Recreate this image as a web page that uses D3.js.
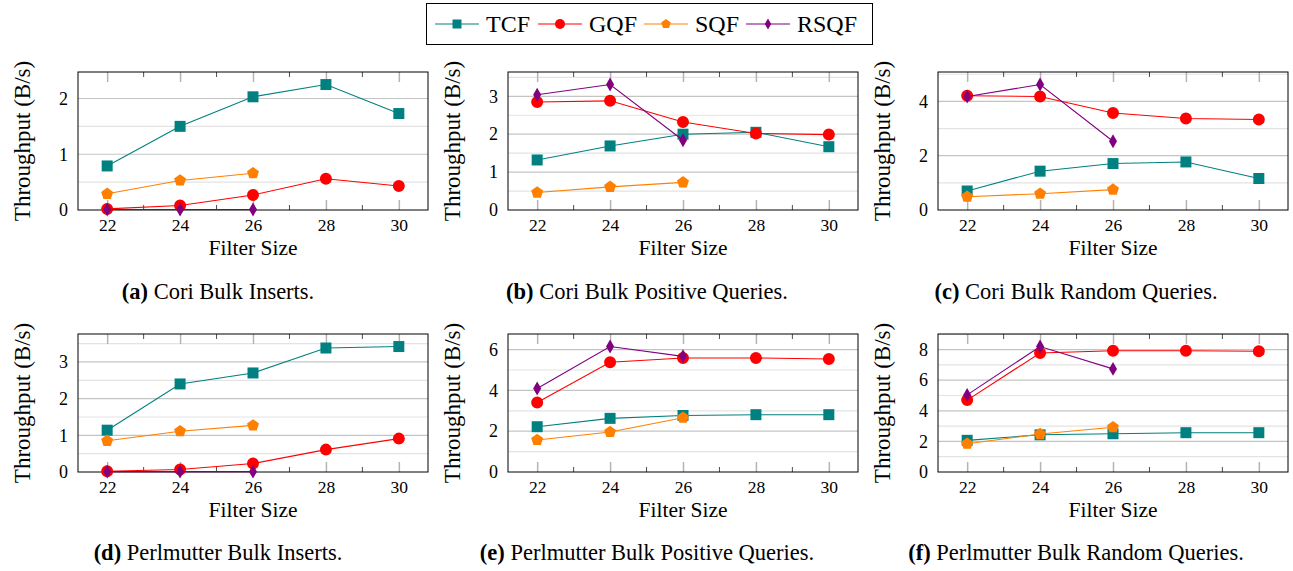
<!DOCTYPE html>
<html>
<head>
<meta charset="utf-8">
<script src="https://cdn.jsdelivr.net/npm/d3@7"></script>
<style>
  body { margin: 0; background: #fff; }
  svg text { font-family: "Liberation Serif", "Times New Roman", serif; }
</style>
</head>
<body>
<svg width="1293" height="571"></svg>
<script>
// filter sizes (x axis) and series names
var filterSizes = [22, 24, 26, 28, 30];
var minorSizes = [23, 25, 27, 29];
var seriesNames = ["TCF", "GQF", "SQF", "RSQF"];

// throughput values per panel, in the order TCF, GQF, SQF, RSQF
var coriInserts = [
  [0.79, 1.50, 2.03, 2.25, 1.73],
  [0.02, 0.08, 0.27, 0.56, 0.43],
  [0.29, 0.53, 0.66],
  [0.01, 0.01, 0.01]
];
var coriPositive = [
  [1.32, 1.69, 2.00, 2.05, 1.67],
  [2.85, 2.88, 2.32, 2.02, 1.99],
  [0.46, 0.61, 0.73],
  [3.04, 3.31, 1.84]
];
var coriRandom = [
  [0.70, 1.43, 1.71, 1.77, 1.16],
  [4.21, 4.18, 3.57, 3.37, 3.33],
  [0.49, 0.60, 0.75],
  [4.18, 4.62, 2.53]
];
var perlInserts = [
  [1.14, 2.40, 2.70, 3.38, 3.42],
  [0.02, 0.07, 0.23, 0.61, 0.91],
  [0.85, 1.11, 1.27],
  [0.01, 0.01, 0.01]
];
var perlPositive = [
  [2.22, 2.63, 2.77, 2.81, 2.81],
  [3.41, 5.38, 5.59, 5.59, 5.54],
  [1.57, 1.96, 2.66],
  [4.09, 6.15, 5.67]
];
var perlRandom = [
  [2.07, 2.43, 2.50, 2.57, 2.57],
  [4.70, 7.78, 7.93, 7.93, 7.89],
  [1.85, 2.48, 2.93],
  [5.04, 8.20, 6.74]
];

var yTickSteps = [1, 1, 2, 1, 2, 2];
var captionTags = ["(a)", "(b)", "(c)", "(d)", "(e)", "(f)"];
var captionTexts = [
  " Cori Bulk Inserts.",
  " Cori Bulk Positive Queries.",
  " Cori Bulk Random Queries.",
  " Perlmutter Bulk Inserts.",
  " Perlmutter Bulk Positive Queries.",
  " Perlmutter Bulk Random Queries."
];

var panels = [coriInserts, coriPositive, coriRandom, perlInserts, perlPositive, perlRandom];

// styling
var serif = "Liberation Serif";
var colors = {TCF: "#008080", GQF: "#ff0000", SQF: "#ff8000", RSQF: "#800080"};

var pentagon = {
  draw: function(context, size) {
    var r = Math.sqrt(size / 2.3776);
    for (var k = 0; k < 5; k++) {
      var a = -Math.PI / 2 + k * 2 * Math.PI / 5;
      if (k == 0) context.moveTo(r * Math.cos(a), r * Math.sin(a));
      else context.lineTo(r * Math.cos(a), r * Math.sin(a));
    }
    context.closePath();
  }
};
var symbolTypes = {TCF: d3.symbolSquare, GQF: d3.symbolCircle, SQF: pentagon, RSQF: d3.symbolDiamond};
var symbolSizes = {TCF: 121, GQF: 113, SQF: 94, RSQF: 56};
var legendSizes = {TCF: 81, GQF: 78, SQF: 60, RSQF: 36};

var svg = d3.select("svg");
var W = 350, H = 138;
var colX = [78, 508, 938], rowY = [72, 334];
var captionCX = [218, 647, 1076];

panels.forEach(function(panel, i) {
  var col = i % 3, row = Math.floor(i / 3);
  var g = svg.append("g").attr("transform", "translate(" + colX[col] + "," + rowY[row] + ")");

  var x = d3.scaleLinear().domain([21.2, 30.8]).range([0, W]);
  var ymax = d3.max(panel, function(s) { return d3.max(s); }) * 1.1;
  var y = d3.scaleLinear().domain([0, ymax]).range([H, 0]);

  var step = yTickSteps[i];
  var majors = d3.range(0, ymax + 1e-9, step);
  var minors = d3.range(step / 2, ymax, step);

  // grid lines
  g.selectAll(".minor").data(minors).enter().append("line")
    .attr("x1", 0).attr("x2", W)
    .attr("y1", function(d) { return y(d); }).attr("y2", function(d) { return y(d); })
    .attr("stroke", "#e3e3e3").attr("stroke-width", 1.2);
  g.selectAll(".major").data(majors.slice(1)).enter().append("line")
    .attr("x1", 0).attr("x2", W)
    .attr("y1", function(d) { return y(d); }).attr("y2", function(d) { return y(d); })
    .attr("stroke", "#c4c4c4").attr("stroke-width", 1.2);

  // x ticks, bottom and top, drawn inward
  var xb = g.append("g").attr("transform", "translate(0," + H + ")")
    .call(d3.axisBottom(x).tickValues(filterSizes).tickSizeInner(-10).tickSizeOuter(0).tickPadding(9));
  xb.select(".domain").remove();
  xb.selectAll("line").attr("stroke", "#b4b4b4").attr("stroke-width", 1.5);
  xb.selectAll("text").attr("font-size", 17.5).attr("fill", "#000");

  var xt = g.append("g")
    .call(d3.axisTop(x).tickValues(filterSizes).tickSizeInner(-10).tickSizeOuter(0).tickFormat(""));
  xt.select(".domain").remove();
  xt.selectAll("line").attr("stroke", "#b4b4b4").attr("stroke-width", 1.5);

  g.selectAll(".minortick").data(minorSizes).enter().append("path")
    .attr("d", function(d) { return "M" + x(d) + ",0v5M" + x(d) + "," + H + "v-5"; })
    .attr("stroke", "#222").attr("stroke-width", 0.8);

  var ya = g.append("g")
    .call(d3.axisLeft(y).tickValues(majors).tickSize(0).tickPadding(10).tickFormat(d3.format("d")));
  ya.select(".domain").remove();
  ya.selectAll("text").attr("font-size", 18).attr("fill", "#000");

  // frame
  g.append("rect").attr("width", W).attr("height", H)
    .attr("fill", "none").attr("stroke", "#000").attr("stroke-width", 1);

  // series
  var line = d3.line()
    .x(function(d, j) { return x(filterSizes[j]); })
    .y(function(d) { return y(d); });

  seriesNames.forEach(function(name, k) {
    var vals = panel[k];
    g.append("path").datum(vals)
      .attr("d", line)
      .attr("fill", "none")
      .attr("stroke", colors[name])
      .attr("stroke-width", 1.1);
    g.selectAll(".m" + name).data(vals).enter().append("path")
      .attr("transform", function(d, j) { return "translate(" + x(filterSizes[j]) + "," + y(d) + ")"; })
      .attr("d", d3.symbol().type(symbolTypes[name]).size(symbolSizes[name]))
      .attr("fill", colors[name]);
  });

  // axis labels
  g.append("text")
    .attr("transform", "translate(-56," + (H / 2) + ") rotate(-90)")
    .attr("text-anchor", "middle").attr("dy", "0.35em")
    .attr("font-size", 23).text("Throughput (B/s)");
  g.append("text")
    .attr("x", W / 2).attr("y", H + 45)
    .attr("text-anchor", "middle").attr("font-size", 21.5).text("Filter Size");

  // caption
  var cap = svg.append("text")
    .attr("x", captionCX[col]).attr("y", row == 0 ? 298.5 : 559.5)
    .attr("text-anchor", "middle").attr("font-size", 22.5);
  cap.append("tspan").attr("font-weight", "bold").text(captionTags[i]);
  cap.append("tspan").text(captionTexts[i]);
});

// legend
var legend = svg.append("g");
legend.append("rect").attr("x", 426.5).attr("y", 3.5).attr("width", 446).attr("height", 41)
  .attr("fill", "#fff").attr("stroke", "#000").attr("stroke-width", 1);
var legendX = [457, 560, 666, 768];
seriesNames.forEach(function(name, k) {
  var cx = legendX[k];
  legend.append("line").attr("x1", cx - 22).attr("x2", cx + 22).attr("y1", 24).attr("y2", 24)
    .attr("stroke", colors[name]).attr("stroke-width", 1.1);
  legend.append("path").attr("transform", "translate(" + cx + ",24)")
    .attr("d", d3.symbol().type(symbolTypes[name]).size(legendSizes[name]))
    .attr("fill", colors[name]);
  legend.append("text").attr("x", cx + 29).attr("y", 32)
    .attr("font-size", 24).text(name);
});

// every label in the serif face
svg.selectAll("text").attr("font-family", serif).style("font-family", serif);
</script>
</body>
</html>
